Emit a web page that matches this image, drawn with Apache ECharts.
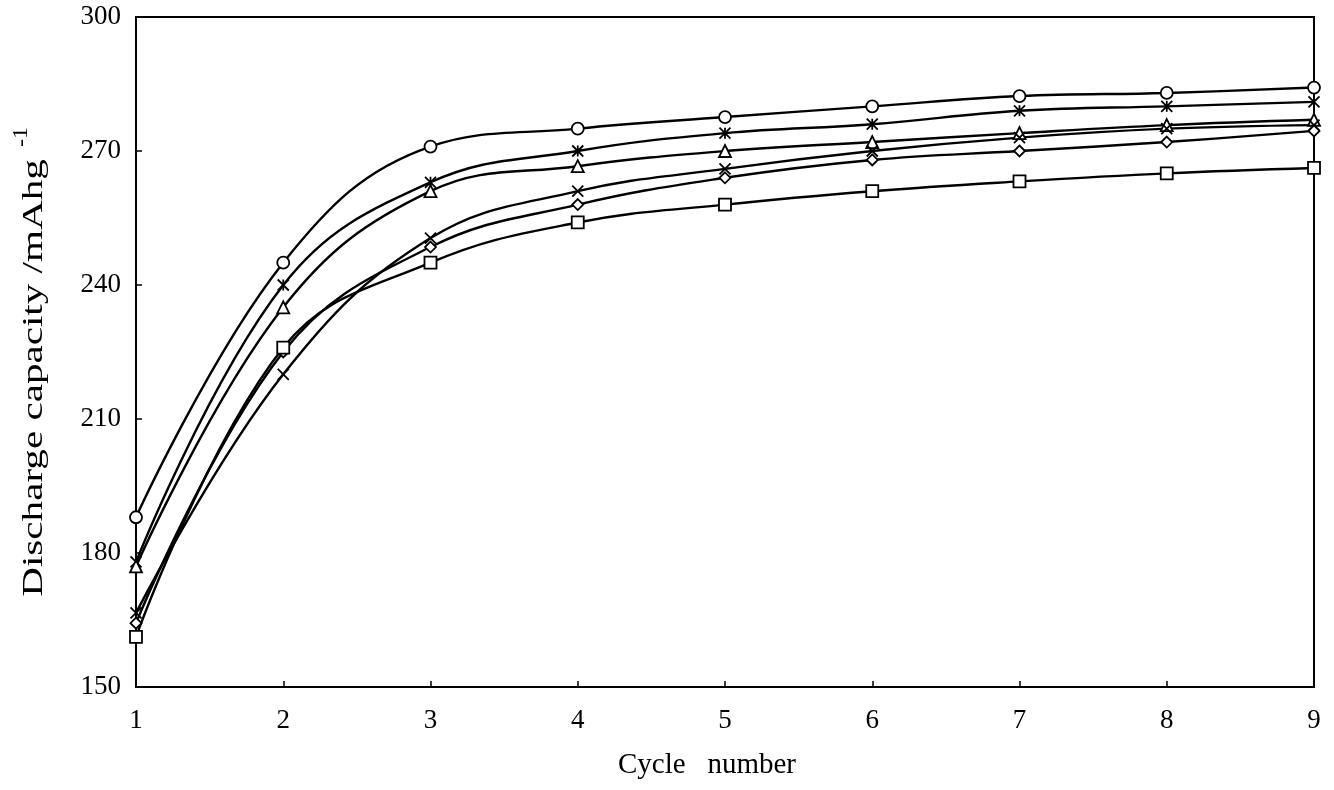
<!DOCTYPE html>
<html>
<head>
<meta charset="utf-8">
<script src="https://cdn.jsdelivr.net/npm/echarts@6/dist/echarts.min.js"></script>
<style>html,body{margin:0;padding:0;background:#fff}#c{width:1334px;height:790px}</style>
</head>
<body>
<div id="c"></div>
<script>
const cycles = ['1','2','3','4','5','6','7','8','9'];
const circleSeries   = [188, 245, 271, 275, 277.6, 280, 282.3, 283, 284.2];
const asteriskSeries = [178, 240, 263, 270, 274, 276, 279, 280, 281];
const triangleSeries = [177, 235, 261, 266.6, 270, 272, 274, 275.8, 277];
const crossSeries    = [166.6, 220, 250.5, 261, 266, 270, 273, 275, 275.8];
const diamondSeries  = [164.3, 225, 248.5, 258, 264, 268, 270, 272, 274.5];
const squareSeries   = [161.2, 226, 245, 254, 258, 261, 263.2, 265, 266.2];
const yTicks = [150, 180, 210, 240, 270, 300];
const xTitle = 'Cycle   number';
const yTitle = 'Discharge capacity /mAhg';
const yTitleSup = '-1';

const FONT = '"Liberation Serif", "DejaVu Serif", serif';
const asteriskPath = 'path://M0 0L10 10M10 0L0 10M5 0L5 10';
const crossPath = 'path://M0 0L10 10M10 0L0 10';

function mk(name, data, symbol, size) {
  return {
    name, type: 'line', data, smooth: 0.4,
    symbol, symbolSize: size,
    lineStyle: { color: '#000', width: 2.4 },
    itemStyle: { color: '#fff', borderColor: '#000', borderWidth: 1.8 },
    emphasis: { disabled: true },
    z: 3
  };
}

const chart = echarts.init(document.getElementById('c'));
chart.setOption({
  backgroundColor: '#fff',
  animation: false,
  grid: { left: 136, right: 20, top: 17, bottom: 103, show: true, borderColor: '#000', borderWidth: 2, backgroundColor: 'transparent' },
  xAxis: {
    type: 'category', data: cycles, boundaryGap: false,
    name: xTitle, nameLocation: 'middle', nameGap: 64,
    nameTextStyle: { fontFamily: FONT, fontSize: 29, color: '#000', padding: [0, 36, 0, 0] },
    axisLine: { lineStyle: { color: '#000', width: 2 } },
    axisTick: { inside: true, length: 6, lineStyle: { color: '#000', width: 1.5 }, alignWithLabel: true },
    axisLabel: { fontFamily: FONT, fontSize: 27, color: '#000', margin: 20 },
    splitLine: { show: false }
  },
  yAxis: {
    type: 'value', min: yTicks[0], max: yTicks[yTicks.length - 1], interval: 30,
    axisLine: { show: true, lineStyle: { color: '#000', width: 2 } },
    axisTick: { show: true, inside: true, length: 6, lineStyle: { color: '#000', width: 1.5 } },
    axisLabel: { fontFamily: FONT, fontSize: 27, color: '#000', margin: 15 },
    splitLine: { show: false }
  },
  graphic: [
    {
      type: 'text', x: 34, y: 378, rotation: Math.PI / 2, scaleX: 1.37,
      style: { text: yTitle, fontFamily: FONT, fontSize: 30, fill: '#000', align: 'center', verticalAlign: 'middle' }
    },
    {
      type: 'text', x: 22, y: 137, rotation: Math.PI / 2, scaleX: 1.2,
      style: { text: yTitleSup, fontFamily: FONT, fontSize: 20, fill: '#000', align: 'center', verticalAlign: 'middle' }
    }
  ],
  series: [
    mk('circle', circleSeries, 'circle', 12),
    mk('asterisk', asteriskSeries, asteriskPath, 11),
    mk('triangle', triangleSeries, 'triangle', 12),
    mk('cross', crossSeries, crossPath, 11),
    mk('diamond', diamondSeries, 'diamond', 11),
    mk('square', squareSeries, 'rect', 12)
  ]
});
</script>
</body>
</html>
